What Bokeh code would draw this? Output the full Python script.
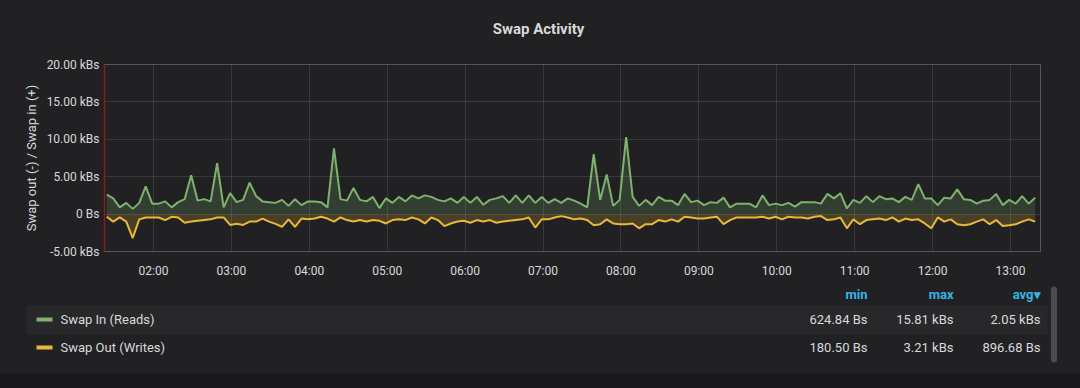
import numpy as np
from bokeh.plotting import figure
from bokeh.models import Range1d, FixedTicker
from bokeh.embed import file_html
from bokeh.resources import INLINE
from bokeh.core.properties import value

BG = "#212124"
TXT = "#d8d9da"
FONT = "Roboto"
GREEN = "#7eb26d"
YELLOW = "#eab839"

# ---- data (kBs), sampled every 5 minutes starting 01:24 ----
start_hour = 1.4
step_minutes = 5

swap_in = [
    2.6, 2.1, 0.9, 1.5, 0.7, 1.5, 3.7, 1.4, 1.4, 1.7,
    0.9, 1.6, 2.0, 5.2, 1.8, 2.0, 1.7, 6.8, 0.9, 2.8,
    1.6, 1.9, 4.2, 2.4, 1.7, 1.6, 1.5, 1.9, 1.1, 2.0,
    1.2, 1.7, 1.7, 1.6, 0.9, 8.8, 2.0, 1.8, 3.5, 1.9,
    1.7, 2.3, 0.8, 2.1, 1.5, 2.3, 1.7, 2.5, 2.1, 2.5,
    2.3, 1.9, 1.7, 2.1, 1.5, 2.3, 1.5, 2.3, 1.25, 1.9,
    2.1, 2.4, 1.5, 2.5, 1.5, 2.5, 1.5,
    2.3, 1.5, 2.0, 1.5, 2.1, 1.8, 1.4, 0.9, 8.0, 1.9,
    5.3, 1.1, 1.9, 10.3, 2.3, 1.1, 1.9, 1.2, 2.3, 1.8,
    1.8, 1.2, 2.7, 1.6, 1.8, 1.2, 1.6, 1.5, 2.2, 0.9,
    1.4, 1.4, 1.4, 0.9, 2.5, 1.2, 1.4, 1.2, 1.5, 1.0,
    1.6, 1.6, 1.6, 1.4, 2.7, 2.1, 2.8, 0.75, 1.9, 1.5,
    2.4, 1.6, 2.4, 2.0, 2.1, 1.6, 2.3, 1.9, 4.0, 2.1,
    2.1, 1.2, 2.2, 2.1, 3.3, 2.0, 1.9, 1.4, 1.8, 1.9,
    2.7, 1.2, 1.9, 1.4, 2.4, 1.4, 2.2,
]

swap_out = [
    -0.36, -1.0, -0.45, -1.0, -3.2, -0.7, -0.45, -0.45, -0.45, -0.8,
    -0.36, -0.45, -1.15, -1.0, -0.9, -0.8, -0.7, -0.45, -0.45, -1.45,
    -1.3, -1.45, -1.0, -1.0, -0.6, -1.0, -1.3, -1.7, -0.7, -1.7,
    -0.6, -0.7, -0.6, -0.36, -0.6, -1.0, -0.45, -0.8, -1.0, -0.8,
    -1.0, -0.8, -0.9, -1.25, -0.8, -0.7, -0.8, -0.45, -0.7, -1.25,
    -0.45, -0.8, -1.6, -1.25, -1.0, -0.9, -1.15, -0.8, -1.0, -0.8,
    -1.15, -1.0, -0.9, -0.8, -0.7, -0.45, -1.8,
    -0.7, -0.7, -0.45, -0.27, -0.45, -0.7, -0.6, -0.8, -1.5, -1.35,
    -0.7, -1.25, -1.35, -1.35, -1.25, -1.9, -1.35, -1.35, -0.8, -1.0,
    -0.7, -1.0, -0.36, -0.45, -0.6, -0.6, -0.45, -0.36, -1.35, -0.8,
    -0.45, -0.45, -0.45, -0.45, -0.36, -0.6, -0.36, -0.7, -0.36, -0.45,
    -0.45, -0.6, -0.36, -0.27, -0.8, -0.7, -0.45, -1.9, -0.7, -1.35,
    -0.8, -0.7, -0.6, -0.8, -0.45, -1.0, -0.6, -0.8, -0.7, -1.25,
    -1.9, -0.45, -1.0, -0.7, -1.35, -1.5, -1.35, -1.0, -0.7, -1.35,
    -0.8, -1.6, -1.5, -1.35, -1.0, -0.7, -1.0,
]

times = start_hour + np.arange(len(swap_in)) * step_minutes / 60.0

y_ticks = [-5, 0, 5, 10, 15, 20]
y_tick_labels = ["-5.00 kBs", "0 Bs", "5.00 kBs", "10.00 kBs", "15.00 kBs", "20.00 kBs"]
x_ticks = [2, 3, 4, 5, 6, 7, 8, 9, 10, 11, 12, 13]
x_tick_labels = ["02:00", "03:00", "04:00", "05:00", "06:00", "07:00",
                 "08:00", "09:00", "10:00", "11:00", "12:00", "13:00"]

title_text = "Swap Activity"
y_axis_text = "Swap out (-) / Swap in (+)"
series_names = ["Swap In (Reads)", "Swap Out (Writes)"]
series_colors = [GREEN, YELLOW]
stat_headers = ["min", "max", "avg\u25BE"]
stat_min = ["624.84 Bs", "180.50 Bs"]
stat_max = ["15.81 kBs", "3.21 kBs"]
stat_avg = ["2.05 kBs", "896.68 Bs"]


def stack_style(z):
    # overlap neighbouring canvases by one pixel so no seam shows between them
    return {"vertical-align": "top", "position": "relative", "z-index": str(z),
            "margin-top": "-1px", "margin-left": "-1px"}


# ---- title strip (pixel units, y measured up from its bottom) ----
t = figure(width=1081, height=45,
           x_range=Range1d(-1, 1080), y_range=Range1d(0, 45),
           output_backend="svg", toolbar_location=None,
           x_axis_location=None, y_axis_location=None,
           min_border=0, background_fill_color=BG, border_fill_color=BG,
           outline_line_color=None, styles=stack_style(3))
t.grid.visible = False
t.text(x=[538], y=[16], text=[title_text], text_align="center", text_baseline="middle",
       text_font=value(FONT), text_font_size="15px", text_font_style="bold",
       text_color=TXT)

# ---- main chart ----
p = figure(width=1081, height=237, title=None,
           x_range=Range1d(1.371, 13.385), y_range=Range1d(-5, 20),
           output_backend="svg", toolbar_location=None,
           min_border_left=105, min_border_right=40,
           min_border_top=21, min_border_bottom=29,
           background_fill_color=BG, border_fill_color=BG,
           outline_line_color=None, styles=stack_style(2))

p.varea(x=times, y1=0, y2=swap_in, fill_color=GREEN, fill_alpha=0.2)
p.varea(x=times, y1=swap_out, y2=0, fill_color=YELLOW, fill_alpha=0.2)
p.line(times, swap_in, line_color=GREEN, line_width=2)
p.line(times, swap_out, line_color=YELLOW, line_width=2)

p.xaxis.ticker = FixedTicker(ticks=x_ticks)
p.xaxis.major_label_overrides = dict(zip(x_ticks, x_tick_labels))
p.yaxis.ticker = FixedTicker(ticks=y_ticks)
p.yaxis.major_label_overrides = dict(zip(y_ticks, y_tick_labels))

for ax in (p.xaxis, p.yaxis):
    ax.major_label_text_font = FONT
    ax.major_label_text_font_size = "12px"
    ax.major_label_text_color = TXT
    ax.major_tick_line_color = None
    ax.minor_tick_line_color = None
    ax.major_tick_out = 0
    ax.major_tick_in = 0
p.xaxis.axis_line_color = None
p.xaxis.major_label_standoff = 12
p.yaxis.axis_line_color = "#8a1c1c"
p.yaxis.axis_line_width = 1.5
p.yaxis.major_label_standoff = 5
p.yaxis.axis_label = y_axis_text
p.yaxis.axis_label_text_font = FONT
p.yaxis.axis_label_text_font_size = "13px"
p.yaxis.axis_label_text_font_style = "normal"
p.yaxis.axis_label_text_color = TXT
p.yaxis.axis_label_standoff = 5

p.xgrid.grid_line_color = "#ffffff"
p.xgrid.grid_line_alpha = 0.11
p.ygrid.grid_line_color = "#ffffff"
p.ygrid.grid_line_alpha = 0.11

# ---- legend table (pixel units, y measured up from its bottom) ----
q = figure(width=1081, height=109,
           x_range=Range1d(-1, 1080), y_range=Range1d(0, 109),
           output_backend="svg", toolbar_location=None,
           x_axis_location=None, y_axis_location=None,
           min_border=0, background_fill_color=BG, border_fill_color=BG,
           outline_line_color=None, styles=stack_style(1))
q.grid.visible = False

row_y = [69, 41]
col_right = [867, 953, 1040]

q.quad(left=[-1], right=[1080], bottom=[0], top=[15], fill_color="#19191b", line_color=None)
q.quad(left=[26], right=[1047], bottom=[54], top=[83], fill_color="#28282b", line_color=None)
q.segment(x0=[36, 36], x1=[52, 52], y0=row_y, y1=row_y,
          line_color=series_colors, line_width=4)
q.text(x=[60, 60], y=row_y, text=series_names, text_baseline="middle",
       text_font=value(FONT), text_font_size="13px", text_color=TXT)
for xr, col in zip(col_right, [stat_min, stat_max, stat_avg]):
    q.text(x=[xr, xr], y=row_y, text=col, text_align="right", text_baseline="middle",
           text_font=value(FONT), text_font_size="13px", text_color=TXT)
q.text(x=col_right, y=[94, 94, 94], text=stat_headers, text_align="right",
       text_baseline="middle", text_font=value(FONT), text_font_size="13px",
       text_font_style="bold", text_color="#33b5e5")
q.segment(x0=[1053.5], x1=[1053.5], y0=[29], y1=[99], line_color="#4b4b52",
          line_width=6, line_cap="round")

open("out.html", "w").write(file_html([t, p, q], INLINE))
